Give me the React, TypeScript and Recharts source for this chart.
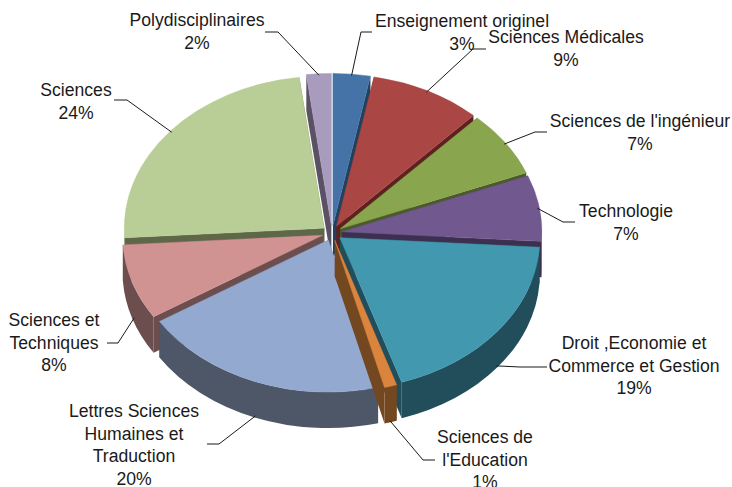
import { Pie, PieChart } from "recharts";

const CATEGORIES = [
  "Enseignement originel",
  "Sciences Médicales",
  "Sciences de l'ingénieur",
  "Technologie",
  "Droit ,Economie et Commerce et Gestion",
  "Sciences de l'Education",
  "Lettres Sciences Humaines et Traduction",
  "Sciences et Techniques",
  "Sciences",
  "Polydisciplinaires",
];
const SHARES = [3, 9, 7, 7, 19, 1, 20, 8, 24, 2];

const TOP_COLORS = ["#4573A7", "#AA4643", "#89A54E", "#71588F", "#4198AF", "#DB843D", "#93A9CF", "#D19392", "#B9CD96", "#A99BBD"];
const WALL_COLORS = ["#23415F", "#5E2120", "#4B5A2A", "#3D2F4F", "#224E5C", "#734720", "#4D5768", "#6D4E4E", "#5E6849", "#5A5165"];

// back slices first, the front ones have to sit on top of their neighbours' walls
const PAINT_ORDER = [9, 0, 8, 1, 2, 3, 7, 4, 6, 5];

const LABEL_LINES = [
  ["Enseignement originel"],
  ["Sciences Médicales"],
  ["Sciences de l'ingénieur"],
  ["Technologie"],
  ["Droit ,Economie et", "Commerce et Gestion"],
  ["Sciences de", "l'Education"],
  ["Lettres Sciences", "Humaines et", "Traduction"],
  ["Sciences et", "Techniques"],
  ["Sciences"],
  ["Polydisciplinaires"],
];
// centre x and first baseline of each label, then the elbow of its leader line
const LABEL_X = [462, 566, 640, 626, 634, 485, 134, 54, 76, 197];
const LABEL_Y = [27, 43, 127, 217, 349, 443, 417, 326, 96, 26];
const ELBOWS = [
  [[372, 32], [361, 32]],
  [[486, 49], [473, 49]],
  [[547, 132], [535, 132]],
  [[575, 222], [563, 222]],
  [[547, 367], [520, 367]],
  [[435, 460], [423, 460]],
  [[207, 444], [219, 444]],
  [[107, 343], [118, 343]],
  [[114, 100], [127, 100]],
  [[265, 32], [278, 32]],
];

const SQUASH = 0.76;
const DEPTH = 36;
const EXPLODE = 0.05;
const RADIUS = 200;
const CENTER_X = 332;
const CENTER_Y = 233;
const RAD = Math.PI / 180;

const chartData = CATEGORIES.map((name, i) => ({ name, value: SHARES[i] }));

function onEllipse(x: number, y: number, rx: number, ry: number, deg: number) {
  return [x + rx * Math.cos(deg * RAD), y - ry * Math.sin(deg * RAD)];
}

function slice3d(index: number) {
  return function Slice3d(props: any) {
    if (props.name !== CATEGORIES[index]) return <g />;
    const { cx, cy, outerRadius, startAngle, endAngle, midAngle } = props;
    const mid = midAngle ?? (startAngle + endAngle) / 2;
    const rx = outerRadius;
    const ry = outerRadius * SQUASH;
    const [ox, oy] = onEllipse(cx, cy, rx * EXPLODE, ry * EXPLODE, mid);
    const [sx, sy] = onEllipse(ox, oy, rx, ry, startAngle);
    const [ex, ey] = onEllipse(ox, oy, rx, ry, endAngle);
    const large = Math.abs(startAngle - endAngle) > 180 ? 1 : 0;
    const top = `M${ox},${oy}L${sx},${sy}A${rx},${ry} 0 ${large} 1 ${ex},${ey}Z`;
    const wallA = `M${ox},${oy}L${sx},${sy}L${sx},${sy + DEPTH}L${ox},${oy + DEPTH}Z`;
    const wallB = `M${ox},${oy}L${ex},${ey}L${ex},${ey + DEPTH}L${ox},${oy + DEPTH}Z`;

    // outer wall: only the part of the arc facing the viewer (angles run clockwise and downwards)
    const walls: string[] = [];
    for (const k of [0, 360]) {
      const a = Math.min(startAngle + k, 0);
      const b = Math.max(endAngle + k, -180);
      if (a > b) {
        const [ax, ay] = onEllipse(ox, oy, rx, ry, a);
        const [bx, by] = onEllipse(ox, oy, rx, ry, b);
        walls.push(
          `M${ax},${ay}A${rx},${ry} 0 0 1 ${bx},${by}L${bx},${by + DEPTH}A${rx},${ry} 0 0 0 ${ax},${ay + DEPTH}Z`
        );
      }
    }
    return (
      <g>
        <path d={wallA} fill={WALL_COLORS[index]} />
        <path d={wallB} fill={WALL_COLORS[index]} />
        {walls.map((d) => (
          <path key={d} d={d} fill={WALL_COLORS[index]} />
        ))}
        <path d={top} fill={TOP_COLORS[index]} stroke={TOP_COLORS[index]} strokeWidth={0.5} />
      </g>
    );
  };
}

function renderLabel(props: any) {
  const { cx, cy, outerRadius, midAngle, index } = props;
  const rx = outerRadius;
  const ry = outerRadius * SQUASH;
  const [ox, oy] = onEllipse(cx, cy, rx * EXPLODE, ry * EXPLODE, midAngle);
  const [ax, ay0] = onEllipse(ox, oy, rx * 0.99, ry * 0.99, midAngle);
  const front = Math.sin(midAngle * RAD) < 0;
  const ay = front ? ay0 + DEPTH : ay0;
  const [[x1, y1], [x2, y2]] = ELBOWS[index];
  const lines = [...LABEL_LINES[index], `${SHARES[index]}%`];
  return (
    <g key={CATEGORIES[index]}>
      <polyline points={`${x1},${y1} ${x2},${y2} ${ax},${ay}`} fill="none" stroke="#1a1a1a" strokeWidth={1} />
      <text textAnchor="middle" fontFamily="Liberation Sans" fontSize={17.6} fill="#1a1a1a">
        {lines.map((line, i) => (
          <tspan key={i} x={LABEL_X[index]} y={LABEL_Y[index] + i * 22.7}>
            {line}
          </tspan>
        ))}
      </text>
    </g>
  );
}

export default function App() {
  return (
    <div style={{ position: "absolute", left: 0, top: 0 }}>
      <PieChart width={732} height={487} margin={{ top: 0, right: 0, bottom: 0, left: 0 }}>
        {PAINT_ORDER.map((idx) => (
          <Pie
            key={idx}
            data={chartData}
            dataKey="value"
            nameKey="name"
            cx={CENTER_X}
            cy={CENTER_Y}
            outerRadius={RADIUS}
            startAngle={90}
            endAngle={-270}
            stroke="none"
            shape={slice3d(idx)}
            isAnimationActive={false}
          />
        ))}
        <Pie
          data={chartData}
          dataKey="value"
          nameKey="name"
          cx={CENTER_X}
          cy={CENTER_Y}
          outerRadius={RADIUS}
          startAngle={90}
          endAngle={-270}
          fill="none"
          stroke="none"
          shape={() => <g />}
          label={renderLabel}
          labelLine={false}
          isAnimationActive={false}
        />
      </PieChart>
    </div>
  );
}
